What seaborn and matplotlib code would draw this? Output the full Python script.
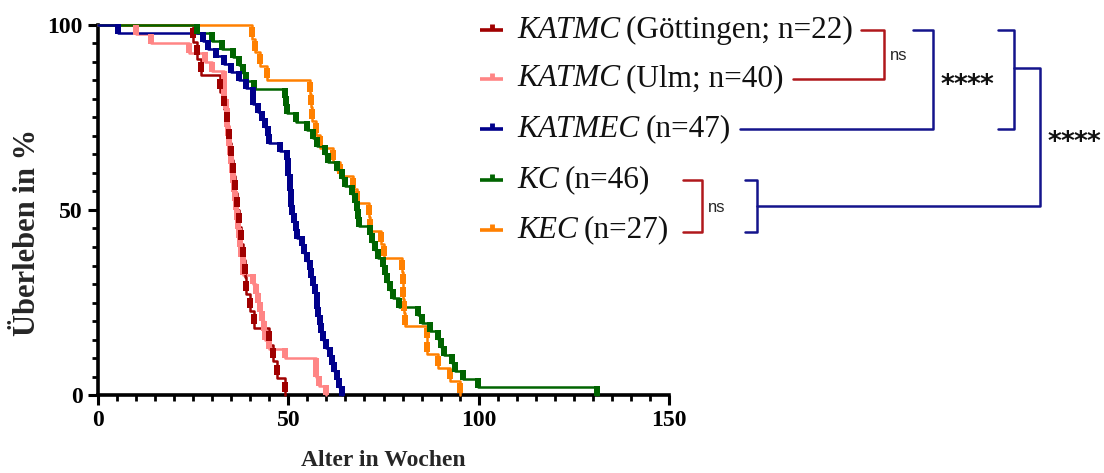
import numpy as np
import pandas as pd
import matplotlib
matplotlib.use("Agg")
import matplotlib.pyplot as plt
from matplotlib.ticker import MultipleLocator
import seaborn as sns

# ---------------- data (ages at death, weeks) ----------------
group_keys = ["KATMC_Ulm", "KATMC_Goe", "KEC", "KC", "KATMEC"]
times_katmc_goe = [25, 26, 27, 32, 33, 34, 34.5, 35, 35.5, 36, 36.5, 37, 37.5, 38,
                   38.5, 39, 40, 41, 45, 46, 47, 49]
times_katmc_ulm = [10, 14, 24, 28, 30, 33, 33, 33.2, 33.5, 33.8, 34, 34.2, 34.5, 34.7,
                   35, 35.2, 35.5, 35.7, 36, 36.2, 36.5, 36.8, 37, 37.3, 37.6, 38, 38,
                   40.7, 41.5, 42, 42.5, 43, 43.5, 44, 45, 49, 57.3, 57.3, 58, 60]
times_katmec = [5.3, 27.6, 29, 31, 33, 35, 37, 39, 40.8, 40.8, 42, 43, 44, 44.6, 45,
                47.8, 49.6, 50, 50, 50.4, 50.5, 50.6, 50.8, 51, 51.5, 52, 52.3, 53.5,
                54.2, 55, 55.6, 56, 56.5, 57, 57.4, 57.5, 57.8, 58.2, 58.6, 59, 60, 61,
                61.5, 62, 62.8, 63.3, 64]
times_kc = [26, 30, 32.5, 35.5, 37, 38, 39, 41, 49, 49.3, 49.6, 52, 54.9, 56.5, 57.5,
            59.6, 60.4, 62.8, 64, 65, 66.7, 67.5, 68, 68.3, 68.5, 71.4, 72, 72.8, 73.5,
            74.9, 75.5, 76, 76.7, 77.5, 79, 84, 85, 87.2, 89.3, 90, 91, 93, 93.8, 95.9,
            99.8, 131]
times_kec = [40.5, 41.2, 42.5, 44.4, 55.7, 56, 56.2, 57.3, 58.3, 61.7, 63.5, 67, 68,
             71.2, 71.4, 74.3, 75, 79.8, 80, 80.2, 80.4, 80.6, 86.4, 86.4, 89.3, 92.5, 95]

legend_names = ["KATMC", "KATMC", "KATMEC", "KC", "KEC"]
legend_rest = ["(Göttingen; n=22)", "(Ulm; n=40)", "(n=47)", "(n=46)", "(n=27)"]
legend_keys = ["KATMC_Goe", "KATMC_Ulm", "KATMEC", "KC", "KEC"]

x_ticks = [0, 50, 100, 150]
y_ticks = [0, 50, 100]

colors = {"KATMC_Goe": "#A00000", "KATMC_Ulm": "#FF8585", "KATMEC": "#00008B",
          "KC": "#006400", "KEC": "#FF8000"}
bracket_red = "#B0181C"
bracket_blue = "#14148C"

all_times = {"KATMC_Goe": times_katmc_goe, "KATMC_Ulm": times_katmc_ulm,
             "KATMEC": times_katmec, "KC": times_kc, "KEC": times_kec}

# ---------------- build step tables ----------------
line_rows, mark_rows = [], []
for g in group_keys:
    ts = all_times[g]
    n = len(ts)
    line_rows.append((g, 0.0, 100.0))
    for i, t in enumerate(ts):
        before = 100.0 * (n - i) / n
        after = 100.0 * (n - i - 1) / n
        line_rows.append((g, t, after))
        mark_rows.append((g, t, (before + after) / 2))
ldf = pd.DataFrame(line_rows, columns=["g", "t", "s"])
mdf = pd.DataFrame(mark_rows, columns=["g", "t", "s"])

# ---------------- figure ----------------
sns.set_theme(style="ticks")
plt.rcParams["font.family"] = ["Liberation Serif", "DejaVu Serif"]

W, H = 1104, 473
fig = plt.figure(figsize=(W / 100, H / 100), dpi=100)
ax = fig.add_axes([98 / W, 1 - 395 / H, (669 - 98) / W, (395 - 25) / H])

rect_marker = [(-0.36, -0.5), (0.36, -0.5), (0.36, 0.5), (-0.36, 0.5), (-0.36, -0.5)]
for g in group_keys:
    sub = ldf[ldf.g == g]
    sns.lineplot(data=sub, x="t", y="s", color=colors[g], drawstyle="steps-post",
                 estimator=None, sort=False, legend=False, lw=1.8, ax=ax,
                 clip_on=False, zorder=3)
    msub = mdf[mdf.g == g]
    sns.scatterplot(data=msub, x="t", y="s", color=colors[g], marker=rect_marker, s=48,
                    linewidth=0, legend=False, ax=ax, clip_on=False, zorder=4)

ax.set_xlim(0, 150)
ax.set_ylim(0, 100)
ax.set_xticks(x_ticks, labels=[str(v) for v in x_ticks], fontsize=17, fontweight="bold")
ax.set_yticks(y_ticks, labels=[str(v) for v in y_ticks], fontsize=17, fontweight="bold")
ax.xaxis.set_minor_locator(MultipleLocator(5))
ax.yaxis.set_minor_locator(MultipleLocator(5))
ax.tick_params(which="major", length=7, width=2.2, direction="out",
               color="black", labelcolor="black", pad=4)
ax.tick_params(which="minor", length=4, width=2, direction="out", color="black")
for sp in ["top", "right"]:
    ax.spines[sp].set_visible(False)
for sp in ["left", "bottom"]:
    ax.spines[sp].set_linewidth(2.6)
    ax.spines[sp].set_color("black")
ax.set_xlabel("Alter in Wochen", fontsize=17, fontweight="bold")
ax.set_ylabel("Überleben in %", fontsize=22, fontweight="bold")
ax.xaxis.set_label_coords((383 - 98) / 571, (395 - 450) / 370)
ax.yaxis.set_label_coords((42 - 98) / 571, (395 - 232) / 370)
ax.patch.set_alpha(0)

# ---------------- overlay for legend and brackets ----------------
ov = fig.add_axes([0, 0, 1, 1])
ov.set_xlim(0, W)
ov.set_ylim(H, 0)
ov.axis("off")
ov.patch.set_alpha(0)

row_y = [30, 79, 129, 180, 230]
fig.canvas.draw()
renderer = fig.canvas.get_renderer()
text_ends = []
for key, nm, rest, y in zip(legend_keys, legend_names, legend_rest, row_y):
    c = colors[key]
    ov.plot([480, 503], [y, y], color=c, lw=2.6, solid_capstyle="butt")
    ov.plot([491.5, 491.5], [y - 6, y], color=c, lw=3.5, solid_capstyle="butt")
    t1 = ov.text(517, y, nm, fontsize=22.5, style="italic", va="center", ha="left",
                 color="#111111")
    bb = t1.get_window_extent(renderer)
    t2 = ov.text(bb.x1 + 6, y, rest, fontsize=22.5, va="center", ha="left",
                 color="#111111")
    bb2 = t2.get_window_extent(renderer)
    text_ends.append(bb2.x1)

lw_b = 1.8


def stars(x0, y):
    for k in range(4):
        ov.text(x0 + 13 * k, y + 5, "*", fontsize=19, family="DejaVu Sans",
                fontweight="bold", va="center", ha="center", color="#111111")


# ns bracket rows 1-2
ov.plot([text_ends[0] + 8, 884, 884, text_ends[1] + 9], [30, 30, 79, 79],
        color=bracket_red, lw=lw_b)
ov.text(890, 55, "ns", fontsize=12, family="Liberation Sans", va="center", ha="left")
# **** bracket rows 1/2 vs 3
ov.plot([913, 933, 933, text_ends[2] + 9], [30, 30, 129, 129], color=bracket_blue, lw=lw_b)
stars(947, 81)
# ns bracket rows 4-5
ov.plot([683, 702, 702, 683], [180, 180, 232, 232], color=bracket_red, lw=lw_b)
ov.text(708, 207, "ns", fontsize=12, family="Liberation Sans", va="center", ha="left")
# blue bracket rows 4-5
ov.plot([745, 757, 757, 745], [180, 180, 232, 232], color=bracket_blue, lw=lw_b)
# outer bracket rows 1-3
ov.plot([998, 1014, 1014, 998], [30, 30, 129, 129], color=bracket_blue, lw=lw_b)
ov.plot([1014, 1040, 1040, 757], [68, 68, 206, 206], color=bracket_blue, lw=lw_b)
stars(1054, 138)

fig.savefig("out.png", dpi=100)
